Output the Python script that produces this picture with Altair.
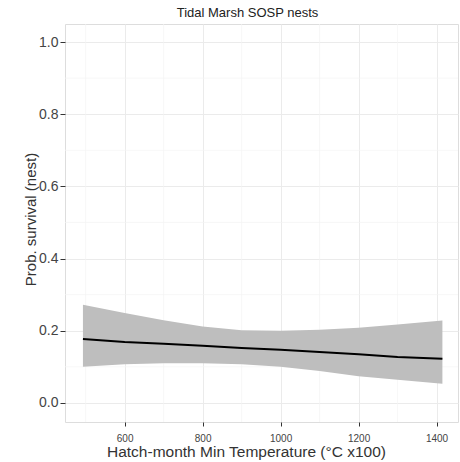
import altair as alt
import pandas as pd

temp = [493, 600, 700, 800, 900, 1000, 1100, 1200, 1300, 1415]
fit = [0.177, 0.169, 0.164, 0.158, 0.152, 0.147, 0.141, 0.135, 0.127, 0.122]
lower = [0.100, 0.107, 0.110, 0.110, 0.107, 0.100, 0.088, 0.074, 0.064, 0.053]
upper = [0.272, 0.249, 0.229, 0.212, 0.201, 0.200, 0.203, 0.208, 0.217, 0.228]

x_major = [600, 800, 1000, 1200, 1400]
x_minor = [500, 700, 900, 1100, 1300]
y_major = [0.0, 0.2, 0.4, 0.6, 0.8, 1.0]
y_minor = [0.1, 0.3, 0.5, 0.7, 0.9]

df = pd.DataFrame({"temp": temp, "fit": fit, "lower": lower, "upper": upper})
dfx = pd.DataFrame({"temp": x_minor})
dfy = pd.DataFrame({"fit": y_minor})

xs = alt.Scale(domain=[447, 1455], nice=False, zero=False)
ys = alt.Scale(domain=[-0.053, 1.05], nice=False, zero=False)

font = "Liberation Sans"

xaxis = alt.Axis(values=x_major, grid=True, gridColor="#ebebeb", gridWidth=1,
                 labelFontSize=10, labelColor="#444444", labelFont=font,
                 tickColor="#333333", tickSize=4, domain=False, labelPadding=7,
                 title="Hatch-month Min Temperature (°C x100)", titleFont=font,
                 titleFontSize=15.5, titleFontWeight="normal", titleColor="#333333",
                 titlePadding=1, titleX=181, format="d")
yaxis = alt.Axis(values=y_major, grid=True, gridColor="#ebebeb", gridWidth=1,
                 labelFontSize=14, labelColor="#444444", labelFont=font,
                 tickColor="#333333", tickSize=5, labelPadding=2, domain=False, format=".1f",
                 title="Prob. survival (nest)", titleFont=font, titleFontSize=15,
                 titleFontWeight="normal", titleColor="#333333", titlePadding=0,
                 titleY=195)

X = alt.X("temp:Q", scale=xs, axis=xaxis)

minor_x = alt.Chart(dfx).mark_rule(color="#f3f3f3", strokeWidth=0.7).encode(x=X)
minor_y = alt.Chart(dfy).mark_rule(color="#f3f3f3", strokeWidth=0.7).encode(
    y=alt.Y("fit:Q", scale=ys, axis=yaxis))

band = alt.Chart(df).mark_area(color="#bebebe", opacity=1).encode(
    x=X,
    y=alt.Y("lower:Q", scale=ys, axis=yaxis),
    y2="upper:Q",
)

line = alt.Chart(df).mark_line(color="#000000", strokeWidth=2).encode(
    x=X,
    y=alt.Y("fit:Q", scale=ys, axis=yaxis),
)

chart = alt.layer(minor_x, minor_y, band, line).properties(
    width=393, height=398,
    padding={"left": 65, "top": 24, "right": 2, "bottom": 40},
    autosize=alt.AutoSizeParams(type="none"),
    title=alt.TitleParams("Tidal Marsh SOSP nests", fontSize=13, font=font,
                          fontWeight="normal", color="#222222", offset=4, dx=-14),
).configure_view(stroke="#a0a0a0", strokeWidth=1).configure(background="white")

chart.save("out.html", embed_options={"renderer": "svg", "actions": False})
